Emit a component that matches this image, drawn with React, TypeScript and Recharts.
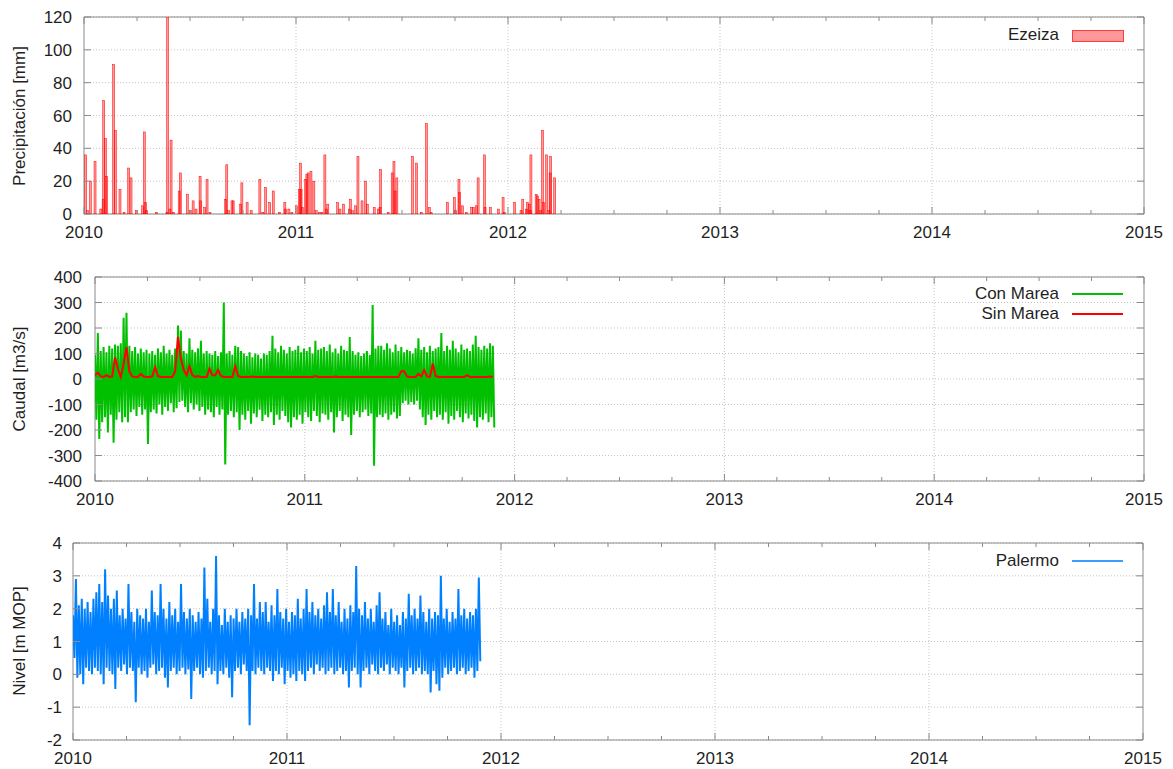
import {
  ComposedChart,
  Line,
  Bar,
  XAxis,
  YAxis,
  CartesianGrid,
  ReferenceLine,
  ReferenceArea,
} from "recharts";

const FONT = '"Liberation Sans", Arial, sans-serif';
const AXIS = "#8a8a8a";
const GRID = "#c4c4c4";
const TEXT = "#1f1f1f";
const GREEN = "#00c000";
const RED = "#ff0000";
const BLUE = "#0080ff";

// time axis (years), quarter-year minor ticks
const YEARS = [2010, 2011, 2012, 2013, 2014, 2015];
const X_TICKS = [
  2010, 2010.25, 2010.5, 2010.75, 2011, 2011.25, 2011.5, 2011.75, 2012, 2012.25, 2012.5,
  2012.75, 2013, 2013.25, 2013.5, 2013.75, 2014, 2014.25, 2014.5, 2014.75, 2015,
];
const PRECIP_TICKS = [0, 20, 40, 60, 80, 100, 120];
const CAUDAL_TICKS = [-400, -300, -200, -100, 0, 100, 200, 300, 400];
const NIVEL_TICKS = [-2, -1, 0, 1, 2, 3, 4];

// Ezeiza daily rain: [day since 2010-01-01, mm]
const precipRecords: [number, number][] = [
  [3, 36], [6, 2], [11, 20], [19, 32], [29, 3], [33, 9], [34, 69], [37, 46], [39, 23], [51, 91],
  [54, 51], [62, 15], [69, 1], [77, 28], [81, 22], [90, 2], [101, 5], [104, 50], [106, 7], [108, 2],
  [125, 1], [143, 1], [144, 130], [148, 3], [150, 45], [154, 1], [164, 14], [166, 25], [178, 12], [183, 2],
  [188, 8], [193, 3], [200, 23], [201, 8], [208, 4], [212, 21], [217, 1], [244, 9], [246, 30], [249, 2],
  [255, 8], [257, 8], [270, 6], [272, 19], [281, 7], [288, 2], [303, 21], [308, 1], [313, 16], [320, 7],
  [326, 14], [337, 1], [346, 7], [347, 3], [353, 3], [358, 1], [366, 5], [371, 15], [373, 31], [374, 15],
  [376, 4], [382, 21], [384, 24], [386, 25], [391, 26], [396, 20], [400, 2], [406, 1], [410, 1], [415, 36],
  [418, 3], [420, 6], [437, 7], [441, 3], [447, 6], [457, 3], [459, 9], [463, 2], [468, 5], [472, 35],
  [479, 8], [485, 20], [488, 6], [500, 4], [507, 3], [510, 4], [511, 27], [524, 1], [531, 25], [534, 32],
  [536, 14], [539, 22], [566, 35], [573, 31], [581, 1], [590, 55], [595, 4], [598, 1], [626, 7], [638, 10],
  [640, 2], [646, 21], [647, 13], [652, 5], [659, 1], [668, 4], [671, 4], [676, 5], [679, 22], [690, 36],
  [691, 4], [700, 4], [714, 3], [722, 10], [724, 1], [742, 7], [753, 2], [756, 9], [762, 3], [764, 7],
  [767, 6], [769, 2], [770, 36], [779, 12], [781, 11], [784, 9], [787, 2], [790, 51], [792, 7], [797, 36],
  [801, 2], [803, 25], [804, 35], [811, 22],
];

// Caudal / Nivel: 140 sampling windows from 2010.0 to ~2011.91, high and low of each window
const WINDOW_YEARS = 0.013643;

const conMareaHigh = [
  95, 180, 110, 125, 105, 130, 120, 135, 130, 140,
  240, 260, 130, 110, 125, 100, 120, 105, 115, 100,
  110, 95, 120, 105, 130, 100, 115, 95, 120, 210,
  190, 110, 100, 160, 115, 105, 120, 150, 100, 110,
  100, 95, 110, 90, 105, 300, 100, 110, 95, 130,
  125, 110, 100, 90, 105, 85, 100, 95, 80, 100,
  95, 110, 170, 120, 105, 130, 115, 100, 125, 110,
  115, 130, 105, 120, 110, 125, 100, 150, 115, 120,
  125, 110, 135, 105, 120, 100, 130, 115, 110, 165,
  110, 95, 105, 90, 100, 110, 95, 290, 120, 130,
  130, 115, 140, 120, 105, 135, 110, 125, 105, 115,
  110, 100, 120, 160, 115, 125, 105, 130, 110, 120,
  125, 180, 110, 130, 115, 150, 120, 105, 135, 115,
  120, 110, 135, 170, 125, 115, 130, 120, 140, 130,
];
const conMareaLow = [
  -160, -235, -170, -150, -210, -140, -250, -160, -130, -170,
  -150, -170, -130, -120, -145, -110, -140, -120, -255, -130,
  -120, -135, -100, -140, -110, -125, -95, -130, -115, -90,
  -85, -110, -130, -95, -120, -100, -125, -110, -140, -120,
  -130, -150, -110, -140, -120, -335, -140, -125, -150, -130,
  -200, -140, -160, -125, -175, -135, -150, -120, -165, -140,
  -150, -130, -180, -140, -160, -125, -145, -170, -190, -150,
  -160, -140, -175, -130, -150, -165, -125, -145, -170, -135,
  -140, -160, -130, -210, -150, -125, -165, -140, -150, -220,
  -140, -125, -150, -130, -120, -145, -135, -340, -150, -140,
  -150, -135, -160, -140, -130, -155, -145, -95, -85, -100,
  -90, -100, -85, -120, -150, -180, -140, -160, -125, -150,
  -140, -160, -130, -175, -145, -160, -125, -150, -170, -135,
  -155, -140, -165, -190, -150, -160, -135, -170, -150, -190,
];
const sinMarea = [
  15, 25, 10, 8, 15, 8, 10, 85, 40, 8,
  60, 125, 30, 10, 8, 8, 20, 10, 8, 8,
  10, 45, 12, 8, 8, 8, 8, 8, 30, 165,
  80, 35, 15, 50, 15, 8, 12, 8, 8, 8,
  40, 15, 15, 35, 12, 8, 8, 8, 8, 50,
  12, 8, 8, 8, 8, 10, 8, 8, 8, 8,
  8, 8, 8, 8, 8, 8, 8, 8, 8, 8,
  8, 8, 8, 8, 8, 8, 8, 12, 8, 8,
  8, 8, 8, 8, 10, 8, 8, 8, 8, 8,
  8, 8, 8, 8, 8, 8, 8, 8, 8, 8,
  8, 8, 8, 8, 8, 8, 8, 30, 30, 10,
  8, 8, 8, 20, 10, 35, 10, 8, 60, 12,
  8, 8, 8, 8, 8, 8, 8, 8, 8, 8,
  15, 8, 8, 8, 8, 8, 8, 8, 10, 8,
];
const palermoHigh = [
  1.8, 2.9, 2.1, 2.3, 2.0, 2.2, 1.9, 2.3, 2.5, 2.75,
  2.2, 3.2, 2.4, 2.0, 2.3, 2.55, 1.8, 2.0, 1.7, 2.75,
  1.9, 1.6, 2.0, 1.8, 1.7, 2.0, 1.6, 2.55, 1.9, 1.8,
  2.75, 2.0, 1.7, 2.2, 1.8, 2.0, 1.6, 2.75, 1.9, 1.7,
  2.0, 1.8, 1.6, 1.9, 1.7, 3.25, 2.3, 1.6, 2.0, 3.6,
  1.8, 1.5, 2.0, 1.6, 1.8, 1.7, 2.0, 1.6, 1.9, 1.7,
  2.0, 1.8, 2.75, 1.7, 2.2, 1.9, 2.2, 1.6, 2.1, 1.8,
  2.6, 1.9, 1.7, 2.0, 1.6, 1.9, 1.8, 2.3, 1.7, 2.0,
  2.6, 1.9, 2.2, 1.8, 2.0, 1.7, 2.1, 2.5, 1.9, 2.6,
  1.8, 2.2, 1.6, 2.0, 1.7, 2.1, 1.9, 3.3, 2.0, 1.8,
  2.2, 1.7, 2.0, 1.6, 2.1, 2.5, 1.7, 1.9, 1.5, 2.0,
  1.6, 1.8, 1.5, 1.9, 1.7, 2.45, 1.8, 2.0, 1.7, 2.4,
  1.9, 1.6, 2.0, 1.7, 1.9, 1.8, 3.0, 1.7, 2.0, 1.6,
  1.9, 1.7, 2.6, 1.8, 2.0, 1.7, 1.9, 1.8, 2.0, 2.95,
];
const palermoLow = [
  0.5, -0.1, 0.0, -0.3, 0.2, 0.1, 0.0, 0.2, 0.1, 0.0,
  -0.3, 0.2, 0.1, 0.0, -0.45, 0.2, 0.1, 0.3, 0.0, 0.2,
  0.1, -0.85, 0.2, 0.0, 0.1, -0.1, 0.2, 0.3, 0.0, 0.1,
  0.2, -0.1, -0.4, 0.1, 0.2, 0.0, 0.1, 0.2, 0.0, 0.15,
  -0.75, 0.1, 0.2, 0.0, -0.1, 0.1, 0.2, 0.0, 0.1, -0.3,
  0.1, 0.0, 0.2, -0.1, -0.7, 0.1, 0.2, 0.0, 0.3, 0.1,
  -1.55, 0.1, 0.0, 0.2, 0.1, 0.0, 0.2, 0.1, -0.2, 0.1,
  0.0, 0.2, -0.3, 0.1, -0.1, 0.0, -0.2, 0.1, 0.0, -0.2,
  0.1, 0.2, 0.0, 0.3, 0.1, 0.2, 0.0, 0.1, 0.2, 0.0,
  0.1, 0.2, 0.0, 0.1, -0.4, 0.1, 0.2, 0.0, -0.4, 0.1,
  0.2, 0.0, 0.3, 0.1, 0.0, 0.2, 0.1, 0.3, 0.0, 0.2,
  0.1, 0.0, 0.2, -0.4, 0.1, 0.2, 0.0, 0.1, 0.2, 0.0,
  0.1, 0.0, -0.55, 0.1, -0.3, -0.5, -0.1, 0.2, 0.0, 0.1,
  0.2, 0.0, 0.1, 0.2, 0.0, 0.1, 0.2, -0.1, 0.1, 0.4,
];

const precipData = precipRecords.map(([d, mm]) => ({ t: 2010 + d / 365.25, p: mm }));

// high then low within each window, so the line sweeps the whole band
function windowSeries(high: number[], low: number[]) {
  const out: { t: number; v: number }[] = [];
  high.forEach((h, i) => {
    out.push({ t: 2010 + i * WINDOW_YEARS, v: h });
    out.push({ t: 2010 + (i + 0.5) * WINDOW_YEARS, v: low[i] });
  });
  return out;
}
const conData = windowSeries(conMareaHigh, conMareaLow);
const sinData = sinMarea.map((v, i) => ({ t: 2010 + i * WINDOW_YEARS, v }));
const palermoData = windowSeries(palermoHigh, palermoLow);

function XTick(props: any) {
  const { x, y, payload, top } = props;
  const v = payload.value;
  const major = Number.isInteger(v);
  const len = major ? 7 : 4;
  return (
    <g>
      <line x1={x} x2={x} y1={y} y2={y - len} stroke={AXIS} />
      <line x1={x} x2={x} y1={top} y2={top + len} stroke={AXIS} />
      {major && (
        <text x={x} y={y + 24} textAnchor="middle" fill={TEXT} fontSize={17} fontFamily={FONT}>
          {v}
        </text>
      )}
    </g>
  );
}

function YTick(props: any) {
  const { x, y, payload, right, gap } = props;
  return (
    <g>
      <line x1={x} x2={x + 7} y1={y} y2={y} stroke={AXIS} />
      <line x1={right} x2={right - 7} y1={y} y2={y} stroke={AXIS} />
      <text x={x - gap} y={y} dy="0.36em" textAnchor="end" fill={TEXT} fontSize={17} fontFamily={FONT}>
        {payload.value}
      </text>
    </g>
  );
}

function RainBar(props: any) {
  const { x, y, width, height } = props;
  if (!height || height <= 0) return null;
  const cx = x + width / 2;
  return (
    <rect
      x={cx - 1}
      y={y}
      width={2}
      height={height}
      fill="rgba(255,0,0,0.4)"
      stroke={RED}
      strokeWidth={0.5}
    />
  );
}

const yearGrid = YEARS.slice(1, -1);

function YTitle({ text, cy }: { text: string; cy: number }) {
  return (
    <div
      style={{
        position: "absolute",
        left: 20,
        top: cy,
        transform: "translate(-50%, -50%) rotate(-90deg)",
        whiteSpace: "nowrap",
        fontSize: 17,
        fontFamily: FONT,
        color: TEXT,
      }}
    >
      {text}
    </div>
  );
}

function LegendRow({ label, cy, color, box, thick }: { label: string; cy: number; color: string; box?: boolean; thick?: number }) {
  return (
    <>
      <div
        style={{
          position: "absolute",
          right: 1173 - 1059,
          top: cy,
          transform: "translateY(-50%)",
          whiteSpace: "nowrap",
          fontSize: 17,
          fontFamily: FONT,
          color: TEXT,
          lineHeight: "20px",
        }}
      >
        {label}
      </div>
      {box ? (
        <div
          style={{
            position: "absolute",
            left: 1072,
            top: cy - 5,
            width: 50,
            height: 10,
            background: "rgba(255,0,0,0.4)",
            border: "1px solid rgba(255,0,0,0.6)",
          }}
        />
      ) : (
        <div
          style={{
            position: "absolute",
            left: 1072,
            top: cy - 1,
            width: 51,
            height: thick ?? 2,
            background: color,
          }}
        />
      )}
    </>
  );
}

export default function App() {
  return (
    <div style={{ position: "absolute", left: 0, top: 0, width: 1173, height: 769, background: "#fff" }}>
      {/* Ezeiza rainfall */}
      <div style={{ position: "absolute", left: 0, top: 0 }}>
        <ComposedChart width={1173} height={250} data={precipData} margin={{ top: 17, right: 29, bottom: 6, left: 0 }}>
          <CartesianGrid vertical={false} stroke={GRID} strokeDasharray="1 2" />
          {yearGrid.map((yr) => (
            <ReferenceLine key={yr} x={yr} stroke={GRID} strokeDasharray="1 2" />
          ))}
          <XAxis
            dataKey="t"
            type="number"
            domain={[2010, 2015]}
            ticks={X_TICKS}
            interval={0}
            tickSize={0}
            tickMargin={0}
            tickLine={false}
            axisLine={false}
            height={30}
            allowDataOverflow
            tick={(p: any) => <XTick {...p} top={17} />}
          />
          <YAxis
            type="number"
            domain={[0, 120]}
            ticks={PRECIP_TICKS}
            interval={0}
            tickSize={0}
            tickMargin={0}
            tickLine={false}
            axisLine={false}
            width={84}
            allowDataOverflow
            tick={(p: any) => <YTick {...p} right={1144} gap={12} />}
          />
          <ReferenceArea x1={2010} x2={2015} y1={0} y2={120} fill="none" stroke={AXIS} strokeOpacity={1} />
          <Bar dataKey="p" isAnimationActive={false} shape={RainBar} />
        </ComposedChart>
      </div>

      {/* Caudal */}
      <div style={{ position: "absolute", left: 0, top: 250 }}>
        <ComposedChart width={1173} height={266} margin={{ top: 27, right: 29, bottom: 5, left: 0 }}>
          <CartesianGrid vertical={false} stroke={GRID} strokeDasharray="1 2" />
          {yearGrid.map((yr) => (
            <ReferenceLine key={yr} x={yr} stroke={GRID} strokeDasharray="1 2" />
          ))}
          <XAxis
            dataKey="t"
            type="number"
            domain={[2010, 2015]}
            ticks={X_TICKS}
            interval={0}
            tickSize={0}
            tickMargin={0}
            tickLine={false}
            axisLine={false}
            height={30}
            allowDataOverflow
            tick={(p: any) => <XTick {...p} top={27} />}
          />
          <YAxis
            type="number"
            domain={[-400, 400]}
            ticks={CAUDAL_TICKS}
            interval={0}
            tickSize={0}
            tickMargin={0}
            tickLine={false}
            axisLine={false}
            width={95}
            allowDataOverflow
            tick={(p: any) => <YTick {...p} right={1144} gap={13} />}
          />
          <ReferenceArea x1={2010} x2={2015} y1={-400} y2={400} fill="none" stroke={AXIS} strokeOpacity={1} />
          <Line data={conData} dataKey="v" stroke={GREEN} strokeWidth={2} dot={false} isAnimationActive={false} />
          <Line data={sinData} dataKey="v" stroke={RED} strokeWidth={2} dot={false} isAnimationActive={false} />
        </ComposedChart>
      </div>

      {/* Nivel Palermo */}
      <div style={{ position: "absolute", left: 0, top: 516 }}>
        <ComposedChart width={1173} height={253} margin={{ top: 27, right: 30, bottom: 4, left: 0 }}>
          <CartesianGrid vertical={false} stroke={GRID} strokeDasharray="1 2" />
          {yearGrid.map((yr) => (
            <ReferenceLine key={yr} x={yr} stroke={GRID} strokeDasharray="1 2" />
          ))}
          <XAxis
            dataKey="t"
            type="number"
            domain={[2010, 2015]}
            ticks={X_TICKS}
            interval={0}
            tickSize={0}
            tickMargin={0}
            tickLine={false}
            axisLine={false}
            height={25}
            allowDataOverflow
            tick={(p: any) => <XTick {...p} top={27} />}
          />
          <YAxis
            type="number"
            domain={[-2, 4]}
            ticks={NIVEL_TICKS}
            interval={0}
            tickSize={0}
            tickMargin={0}
            tickLine={false}
            axisLine={false}
            width={73}
            allowDataOverflow
            tick={(p: any) => <YTick {...p} right={1143} gap={11} />}
          />
          <ReferenceArea x1={2010} x2={2015} y1={-2} y2={4} fill="none" stroke={AXIS} strokeOpacity={1} />
          <Line data={palermoData} dataKey="v" stroke={BLUE} strokeWidth={2} dot={false} isAnimationActive={false} />
        </ComposedChart>
      </div>

      <YTitle text="Precipitación [mm]" cy={116} />
      <YTitle text="Caudal [m3/s]" cy={379} />
      <YTitle text="Nivel [m MOP]" cy={641} />

      <LegendRow label="Ezeiza" cy={35} color={RED} box />
      <LegendRow label="Con Marea" cy={294} color={GREEN} thick={1.5} />
      <LegendRow label="Sin Marea" cy={314} color={RED} />
      <LegendRow label="Palermo" cy={561} color="#3d9dff" thick={1.5} />
    </div>
  );
}
